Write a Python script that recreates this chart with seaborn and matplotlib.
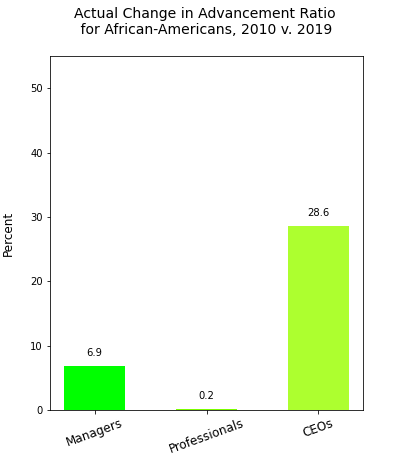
import matplotlib
matplotlib.use("Agg")
import matplotlib.pyplot as plt
import pandas as pd
import seaborn as sbn

categories = ["Managers", "Professionals", "CEOs"]
values = [6.9, 0.2, 28.6]
colors = ["#00ff00", "#7cfc00", "#adff2f"]

df = pd.DataFrame({"group": categories, "change": values})

fig = plt.figure(figsize=(403 / 72, 468 / 72), dpi=72)
axes = fig.add_axes([0.124, 0.124, 0.777, 0.756])
sbn.barplot(
    data=df, x="group", y="change", hue="group", palette=colors,
    width=0.55, saturation=1, legend=False, linewidth=0, ax=axes,
)
for i, v in enumerate(values):
    axes.annotate(f"{v}", (i, v), xytext=(0, 8), textcoords="offset points",
                  ha="center", va="bottom", fontsize=10)

axes.set_xlim(-0.4, 2.4)
axes.set_ylim(0, 55)
axes.set_xlabel("")
axes.set_ylabel("Percent", fontsize=12, labelpad=15)
axes.tick_params(axis="x", labelsize=12, labelrotation=20)
axes.tick_params(axis="y", labelsize=10)
fig.suptitle("Actual Change in Advancement Ratio\n for African-Americans, 2010 v. 2019",
             fontsize=14, x=0.5075, y=0.985)
fig.savefig("out.png", dpi=72)
